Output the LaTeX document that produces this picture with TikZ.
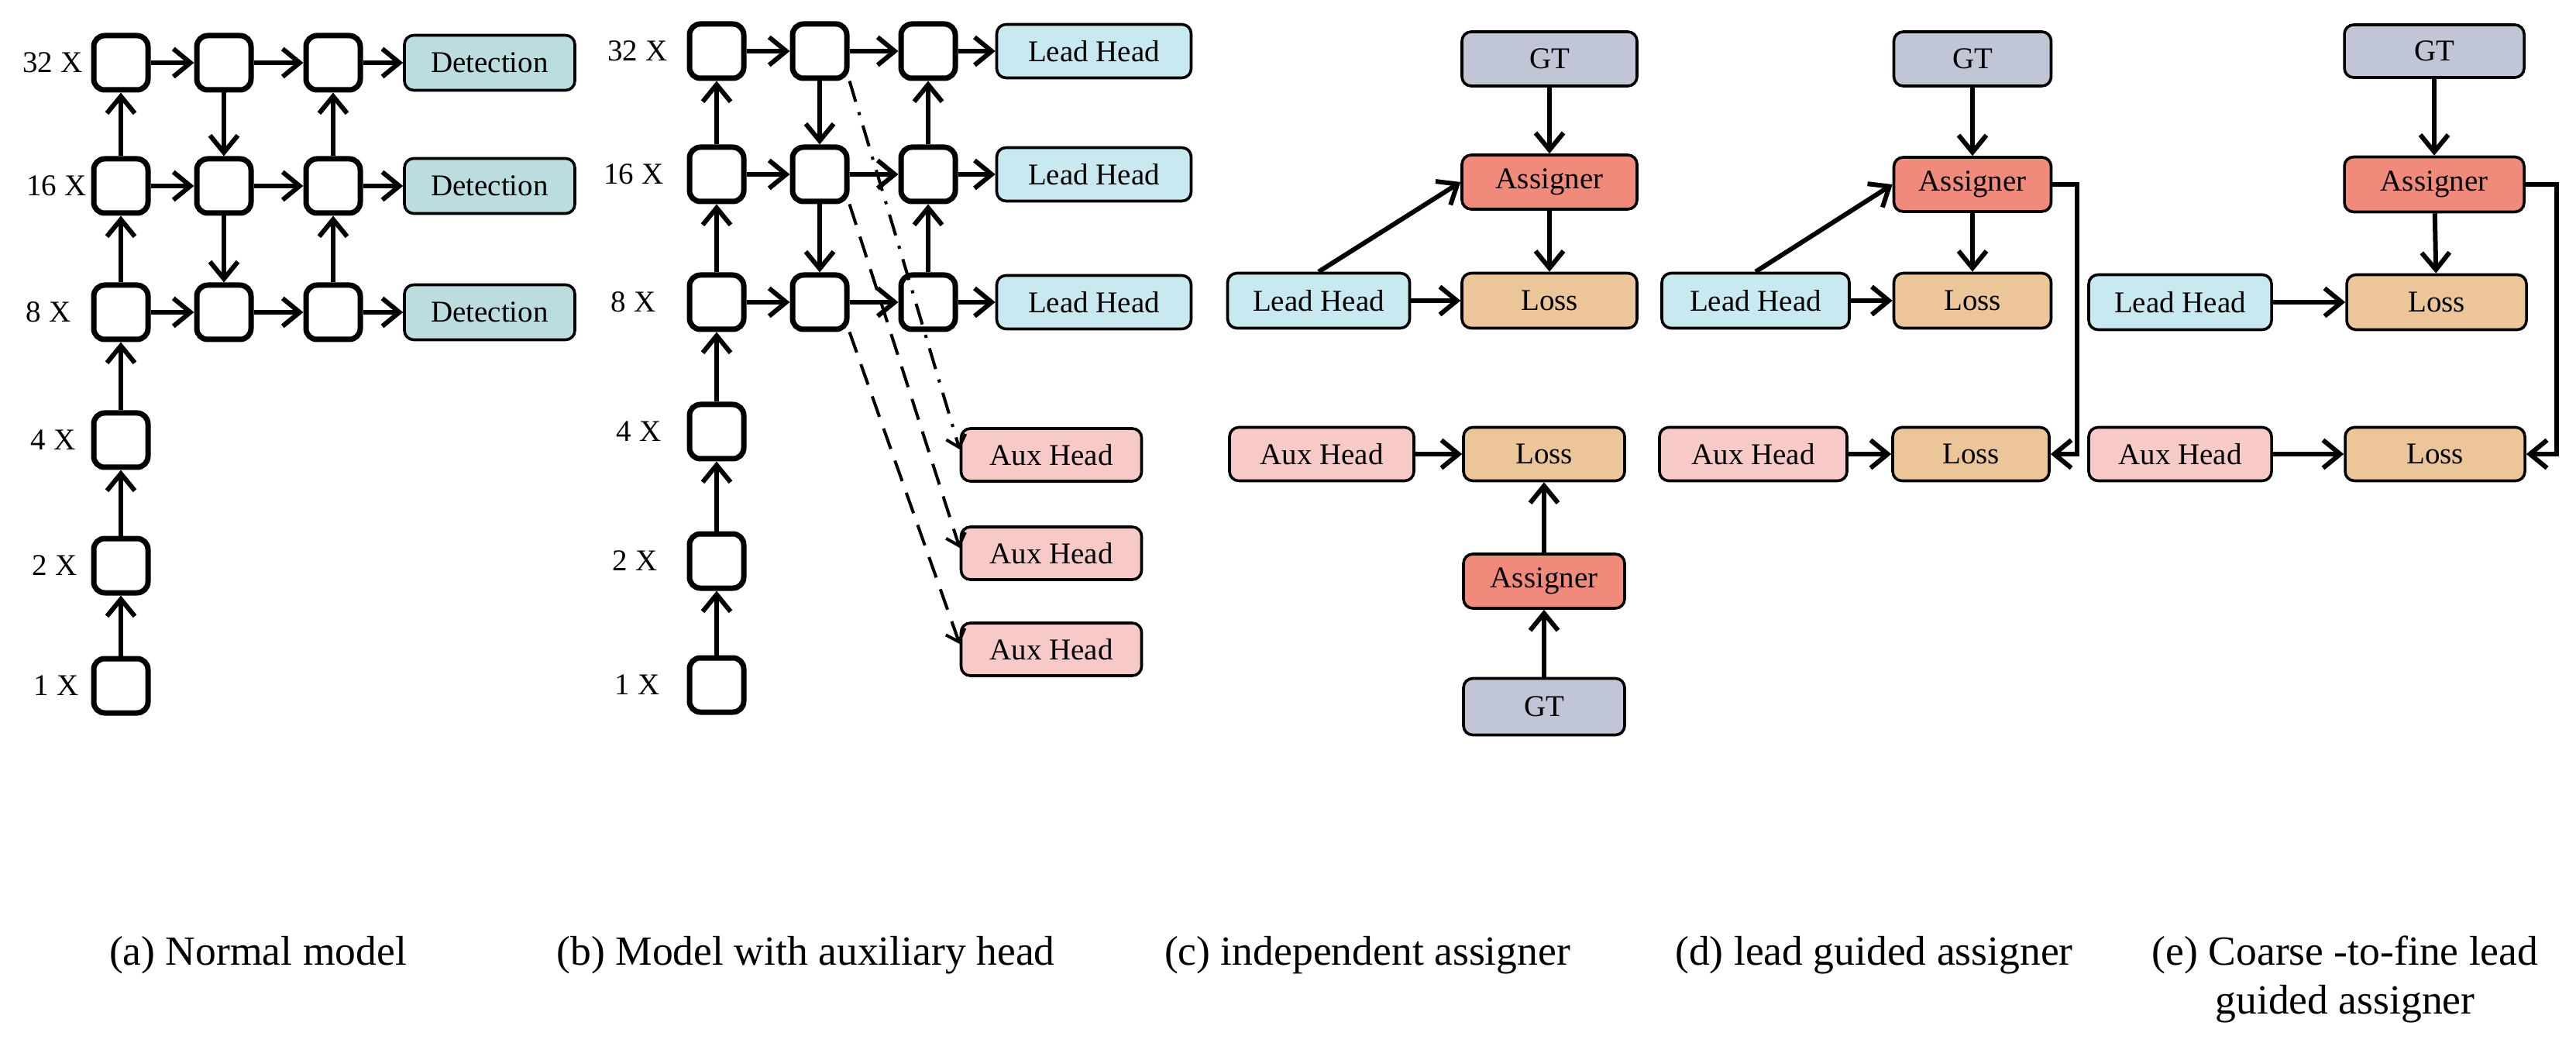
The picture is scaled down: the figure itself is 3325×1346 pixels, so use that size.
\documentclass[tikz,border=0pt]{standalone}
\usepackage{fontspec}
\setmainfont{Liberation Serif}
\usetikzlibrary{arrows.meta,calc}
\definecolor{detc}{RGB}{188,221,224}
\definecolor{leadc}{RGB}{200,233,239}
\definecolor{auxc}{RGB}{247,202,199}
\definecolor{lossc}{RGB}{236,198,153}
\definecolor{asgc}{RGB}{240,138,122}
\definecolor{gtc}{RGB}{193,198,214}
\newcommand{\labfont}{\fontsize{9.75pt}{11pt}\selectfont}
\newcommand{\capfont}{\fontsize{13.4pt}{15.75pt}\selectfont}
\begin{document}
\begin{tikzpicture}[x=0.25pt,y=-0.25pt,
  every node/.style={inner sep=0pt},
  gbox/.style={draw, line width=1.75pt, rounded corners=3.5pt, minimum width=17.5pt, minimum height=17.5pt},
  cbox/.style={draw, line width=0.9pt, rounded corners=3pt, fill=#1, font=\labfont},
  lab/.style={font=\labfont, anchor=east},
  captext/.style={font=\capfont, anchor=base, align=center},
  arr/.style={line width=1.5pt, -{Straight Barb[length=5.5pt,width=9pt]}},
  darr/.style={line width=1pt, dash pattern=on 7pt off 4pt, -{Straight Barb[length=3.5pt,width=6.5pt]}},
  ddarr/.style={line width=1pt, dash pattern=on 7pt off 3.5pt on 1pt off 3.5pt, -{Straight Barb[length=3.5pt,width=6.5pt]}},
]
\path[use as bounding box, fill=white] (0,0) rectangle (3325,1346);

% ---------------- panel (a)
\node[gbox] (a1) at (156,885) {};
\node[gbox] (a2) at (156,730) {};
\node[gbox] (a4) at (156,568) {};
\node[gbox] (a8) at (156,403) {};
\node[gbox] (a16) at (156,240) {};
\node[gbox] (a32) at (156,81) {};
\node[gbox] (a8b) at (289,403) {};
\node[gbox] (a16b) at (289,240) {};
\node[gbox] (a32b) at (289,81) {};
\node[gbox] (a8c) at (430,403) {};
\node[gbox] (a16c) at (430,240) {};
\node[gbox] (a32c) at (430,81) {};
\node[cbox=detc, minimum width=55pt, minimum height=17.75pt] (ad32) at (632,81) {Detection};
\node[cbox=detc, minimum width=55pt, minimum height=17.75pt] (ad16) at (632,240) {Detection};
\node[cbox=detc, minimum width=55pt, minimum height=17.75pt] (ad8) at (632,403) {Detection};
\node[lab] (la32) at (107,81) {32 X};
\node[lab] (la16) at (112,240) {16 X};
\node[lab] (la8) at (92,403) {8 X};
\node[lab] (la4) at (98,568) {4 X};
\node[lab] (la2) at (100,730) {2 X};
\node[lab] (la1) at (102,885) {1 X};
\draw[arr] (a1) -- (a2);
\draw[arr] (a2) -- (a4);
\draw[arr] (a4) -- (a8);
\draw[arr] (a8) -- (a16);
\draw[arr] (a16) -- (a32);
\draw[arr] (a32) -- (a32b);
\draw[arr] (a32b) -- (a32c);
\draw[arr] (a32c) -- (ad32);
\draw[arr] (a16) -- (a16b);
\draw[arr] (a16b) -- (a16c);
\draw[arr] (a16c) -- (ad16);
\draw[arr] (a8) -- (a8b);
\draw[arr] (a8b) -- (a8c);
\draw[arr] (a8c) -- (ad8);
\draw[arr] (a32b) -- (a16b);
\draw[arr] (a16b) -- (a8b);
\draw[arr] (a8c) -- (a16c);
\draw[arr] (a16c) -- (a32c);

% ---------------- panel (b)
\node[gbox] (b1) at (925,884) {};
\node[gbox] (b2) at (925,724) {};
\node[gbox] (b4) at (925,557) {};
\node[gbox] (b8) at (925,390) {};
\node[gbox] (b16) at (925,225) {};
\node[gbox] (b32) at (925,66) {};
\node[gbox] (b8b) at (1058,390) {};
\node[gbox] (b16b) at (1058,225) {};
\node[gbox] (b32b) at (1058,66) {};
\node[gbox] (b8c) at (1198,390) {};
\node[gbox] (b16c) at (1198,225) {};
\node[gbox] (b32c) at (1198,66) {};
\node[cbox=leadc, minimum width=62.75pt, minimum height=17.25pt] (bl32) at (1412,66) {Lead Head};
\node[cbox=leadc, minimum width=62.75pt, minimum height=17.25pt] (bl16) at (1412,225) {Lead Head};
\node[cbox=leadc, minimum width=62.75pt, minimum height=17.25pt] (bl8) at (1412,390) {Lead Head};
\node[cbox=auxc, minimum width=58.25pt, minimum height=17pt] (bx1) at (1357,587) {Aux Head};
\node[cbox=auxc, minimum width=58.25pt, minimum height=17pt] (bx2) at (1357,714) {Aux Head};
\node[cbox=auxc, minimum width=58.25pt, minimum height=17pt] (bx3) at (1357,838) {Aux Head};
\node[lab] (lb32) at (862,66) {32 X};
\node[lab] (lb16) at (857,225) {16 X};
\node[lab] (lb8) at (847,390) {8 X};
\node[lab] (lb4) at (854,557) {4 X};
\node[lab] (lb2) at (849,724) {2 X};
\node[lab] (lb1) at (852,884) {1 X};
\draw[arr] (b1) -- (b2);
\draw[arr] (b2) -- (b4);
\draw[arr] (b4) -- (b8);
\draw[arr] (b8) -- (b16);
\draw[arr] (b16) -- (b32);
\draw[arr] (b32) -- (b32b);
\draw[arr] (b32b) -- (b32c);
\draw[arr] (b32c) -- (bl32);
\draw[arr] (b16) -- (b16b);
\draw[arr] (b16b) -- (b16c);
\draw[arr] (b16c) -- (bl16);
\draw[arr] (b8) -- (b8b);
\draw[arr] (b8b) -- (b8c);
\draw[arr] (b8c) -- (bl8);
\draw[arr] (b32b) -- (b16b);
\draw[arr] (b16b) -- (b8b);
\draw[arr] (b8c) -- (b16c);
\draw[arr] (b16c) -- (b32c);
\draw[ddarr] (b32b.south east) -- ($(bx1.west)+(0,-7)$);
\draw[darr] (b16b.south east) -- ($(bx2.west)+(0,-7)$);
\draw[darr] (b8b.south east) -- ($(bx3.west)+(0,-7)$);

% ---------------- panel (c)
\node[cbox=gtc, minimum width=56.5pt, minimum height=17.5pt] (cgt) at (2000,76) {GT};
\node[cbox=asgc, minimum width=56.5pt, minimum height=17.5pt] (casg) at (2000,235) {Assigner};
\node[cbox=leadc, minimum width=58.75pt, minimum height=17.75pt] (clead) at (1702,388) {Lead Head};
\node[cbox=lossc, minimum width=56.5pt, minimum height=17.75pt] (closs) at (2000,388) {Loss};
\node[cbox=auxc, minimum width=59.5pt, minimum height=17.25pt] (caux) at (1706,586) {Aux Head};
\node[cbox=lossc, minimum width=52pt, minimum height=17.25pt] (closs2) at (1993,586) {Loss};
\node[cbox=asgc, minimum width=52pt, minimum height=17.5pt] (casg2) at (1993,750) {Assigner};
\node[cbox=gtc, minimum width=52pt, minimum height=18.25pt] (cgt2) at (1993,912) {GT};
\draw[arr] (cgt) -- (casg);
\draw[arr] (casg) -- (closs);
\draw[arr] (clead) -- (closs);
\draw[arr] (clead.north) -- (casg.west);
\draw[arr] (caux) -- (closs2);
\draw[arr] (casg2) -- (closs2);
\draw[arr] (cgt2) -- (casg2);

% ---------------- panel (d)
\node[cbox=gtc, minimum width=50.75pt, minimum height=17.5pt] (dgt) at (2546,76) {GT};
\node[cbox=asgc, minimum width=50.75pt, minimum height=17.5pt] (dasg) at (2546,238) {Assigner};
\node[cbox=leadc, minimum width=60.5pt, minimum height=17.75pt] (dlead) at (2266,388) {Lead Head};
\node[cbox=lossc, minimum width=50.75pt, minimum height=17.75pt] (dloss) at (2546,388) {Loss};
\node[cbox=auxc, minimum width=60.5pt, minimum height=17.25pt] (daux) at (2263,586) {Aux Head};
\node[cbox=lossc, minimum width=50.5pt, minimum height=17.25pt] (dloss2) at (2544,586) {Loss};
\draw[arr] (dgt) -- (dasg);
\draw[arr] (dasg) -- (dloss);
\draw[arr] (dlead) -- (dloss);
\draw[arr] (dlead.north) -- (dasg.west);
\draw[arr] (daux) -- (dloss2);
\draw[arr] (dasg.east) -- ++(32,0) |- (dloss2.east);

% ---------------- panel (e)
\node[cbox=gtc, minimum width=58pt, minimum height=17pt] (egt) at (3142,66) {GT};
\node[cbox=asgc, minimum width=58pt, minimum height=17.75pt] (easg) at (3142,238) {Assigner};
\node[cbox=leadc, minimum width=59pt, minimum height=17.75pt] (elead) at (2814,390) {Lead Head};
\node[cbox=lossc, minimum width=58pt, minimum height=17.75pt] (eloss) at (3145,390) {Loss};
\node[cbox=auxc, minimum width=59pt, minimum height=17.25pt] (eaux) at (2814,586) {Aux Head};
\node[cbox=lossc, minimum width=58pt, minimum height=17.25pt] (eloss2) at (3143,586) {Loss};
\draw[arr] (egt) -- (easg);
\draw[arr] (easg) -- (eloss);
\draw[arr] (elead) -- (eloss);
\draw[arr] (eaux) -- (eloss2);
\draw[arr] (easg.east) -- ++(40,0) |- (eloss2.east);

% ---------------- captions
\node[captext] (capa) at (333,1245) {(a) Normal model};
\node[captext] (capb) at (1040,1245) {(b) Model with auxiliary head};
\node[captext] (capc) at (1765,1245) {(c) independent assigner};
\node[captext] (capd) at (2419,1245) {(d) lead guided assigner};
\node[captext] (cape) at (3027,1308) {(e) Coarse -to-fine lead\\guided assigner};
\end{tikzpicture}
\end{document}
